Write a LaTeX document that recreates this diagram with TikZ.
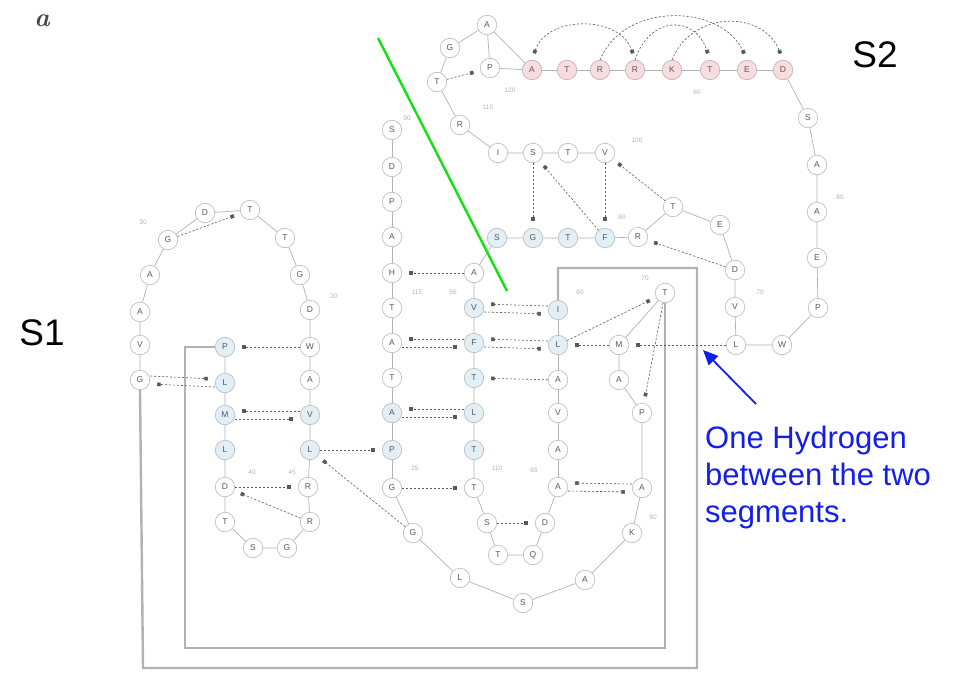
\documentclass[tikz,border=0pt]{standalone}
\usepackage{fontspec}
\setsansfont{Liberation Sans}
\usetikzlibrary{arrows.meta}
\definecolor{hbgreen}{RGB}{20,225,20}
\definecolor{txtblue}{RGB}{20,30,235}
\definecolor{pinkfill}{RGB}{248,220,224}
\definecolor{bluefill}{RGB}{226,239,246}
\begin{document}
\begin{tikzpicture}[x=1pt,y=-1pt,
  res/.style={circle,draw=gray!55,line width=0.6pt,minimum size=19.5pt,inner sep=0pt,
    font=\sffamily\fontsize{8.5}{8.5}\selectfont,text=gray!70!black},
  pinkres/.style={res,fill=pinkfill,draw=gray!50!pinkfill},
  blueres/.style={res,fill=bluefill},
  bb/.style={draw=gray!60,line width=0.7pt},
  hb/.style={draw=gray!70!black,line width=0.6pt,dash pattern=on 2.2pt off 1.8pt,
    -{Square[length=3.6pt,width=3.6pt]},shorten >=7pt},
  hbb/.style={hb,{Square[length=3.6pt,width=3.6pt]}-{Square[length=3.6pt,width=3.6pt]},shorten <=7pt},
  loopline/.style={draw=gray!60,line width=2.4pt},
  num/.style={font=\sffamily\fontsize{6.5}{6.5}\selectfont,text=gray!60},
  big/.style={font=\sffamily\fontsize{37}{37}\selectfont}]
\useasboundingbox (0,0) rectangle (957,674);
\fill[white] (0,0) rectangle (957,674);

% ---------- top turn ----------
\node[res] (a1) at (487,25) {A};
\node[res] (a2) at (450,48) {G};
\node[res] (a3) at (437,82) {T};
\node[res] (a4) at (490,68) {P};
\node[res] (a5) at (460,125) {R};
\node[pinkres] (p1) at (532,70) {A};
\node[pinkres] (p2) at (567,70) {T};
\node[pinkres] (p3) at (600,70) {R};
\node[pinkres] (p4) at (635,70) {R};
\node[pinkres] (p5) at (672,70) {K};
\node[pinkres] (p6) at (710,70) {T};
\node[pinkres] (p7) at (747,70) {E};
\node[pinkres] (p8) at (783,70) {D};

% ---------- right arm ----------
\node[res] (t11) at (808,118) {S};
\node[res] (t10) at (817,165) {A};
\node[res] (t9) at (817,212) {A};
\node[res] (t8) at (817,258) {E};
\node[res] (t7) at (818,308) {P};
\node[res] (t6) at (782,345) {W};
\node[res] (t5) at (736,345) {L};
\node[res] (t4) at (735,307) {V};
\node[res] (t3) at (735,270) {D};
\node[res] (t2) at (720,225) {E};
\node[res] (t1) at (673,207) {T};

% ---------- upper hairpin ----------
\node[res] (w1) at (498,153) {I};
\node[res] (w2) at (533,153) {S};
\node[res] (w3) at (568,153) {T};
\node[res] (w4) at (605,153) {V};
\node[blueres] (u1) at (497,238) {S};
\node[blueres] (u2) at (533,238) {G};
\node[blueres] (u3) at (568,238) {T};
\node[blueres] (u4) at (605,238) {F};
\node[res] (u5) at (638,237) {R};

% ---------- central strands ----------
\node[res] (c1) at (392,130) {S};
\node[res] (c2) at (392,167) {D};
\node[res] (c3) at (392,202) {P};
\node[res] (c4) at (392,237) {A};
\node[res] (c5) at (392,273) {H};
\node[res] (c6) at (392,308) {T};
\node[res] (c7) at (392,343) {A};
\node[res] (c8) at (392,378) {T};
\node[blueres] (c9) at (392,413) {A};
\node[blueres] (c10) at (392,450) {P};
\node[res] (c11) at (392,488) {G};

\node[res] (m1) at (474,273) {A};
\node[blueres] (m2) at (474,308) {V};
\node[blueres] (m3) at (474,343) {F};
\node[blueres] (m4) at (474,378) {T};
\node[blueres] (m5) at (474,413) {L};
\node[blueres] (m6) at (474,450) {T};
\node[res] (m7) at (474,488) {T};

\node[blueres] (n1) at (558,310) {I};
\node[blueres] (n2) at (558,345) {L};
\node[res] (n3) at (558,380) {A};
\node[res] (n4) at (558,413) {V};
\node[res] (n5) at (558,450) {A};
\node[res] (n6) at (558,487) {A};

\node[res] (k1) at (487,523) {S};
\node[res] (k2) at (498,555) {T};
\node[res] (k3) at (533,555) {Q};
\node[res] (k4) at (545,523) {D};

\node[res] (b1) at (413,533) {G};
\node[res] (b2) at (460,578) {L};
\node[res] (b3) at (523,603) {S};
\node[res] (b4) at (585,580) {A};
\node[res] (b5) at (632,533) {K};
\node[res] (b6) at (642,488) {A};
\node[res] (b7) at (642,413) {P};
\node[res] (b8) at (619,380) {A};
\node[res] (b9) at (619,345) {M};
\node[res] (b10) at (665,293) {T};

% ---------- left loop ----------
\node[res] (l1) at (140,380) {G};
\node[res] (l2) at (140,345) {V};
\node[res] (l3) at (140,312) {A};
\node[res] (l4) at (150,275) {A};
\node[res] (l5) at (168,240) {G};
\node[res] (l6) at (205,213) {D};
\node[res] (l7) at (250,210) {T};
\node[res] (l8) at (285,238) {T};
\node[res] (l9) at (300,275) {G};
\node[res] (l10) at (310,310) {D};
\node[res] (l11) at (310,347) {W};
\node[res] (l12) at (310,380) {A};
\node[blueres] (l13) at (310,415) {V};
\node[blueres] (l14) at (310,450) {L};
\node[res] (l15) at (308,487) {R};
\node[res] (l16) at (310,522) {R};
\node[res] (l17) at (287,548) {G};
\node[res] (l18) at (253,548) {S};
\node[res] (l19) at (225,522) {T};
\node[res] (l20) at (225,487) {D};
\node[blueres] (l21) at (225,450) {L};
\node[blueres] (l22) at (225,415) {M};
\node[blueres] (l23) at (225,383) {L};
\node[blueres] (l24) at (225,347) {P};

% ---------- residue numbers ----------
\node[num] (q1) at (143,222) {30};
\node[num] (q2) at (334,296) {20};
\node[num] (q3) at (252,472) {40};
\node[num] (q4) at (292,472) {45};
\node[num] (q5) at (407,118) {90};
\node[num] (q6) at (417,292) {115};
\node[num] (q7) at (453,292) {55};
\node[num] (q8) at (415,468) {25};
\node[num] (q9) at (497,468) {110};
\node[num] (q10) at (534,470) {65};
\node[num] (q11) at (653,517) {80};
\node[num] (q12) at (580,292) {60};
\node[num] (q13) at (645,278) {70};
\node[num] (q14) at (760,292) {70};
\node[num] (q15) at (840,197) {80};
\node[num] (q16) at (622,217) {80};
\node[num] (q17) at (637,140) {100};
\node[num] (q18) at (510,90) {120};
\node[num] (q19) at (488,107) {110};
\node[num] (q20) at (697,92) {60};

% ---------- backbone ----------
\draw[bb] (a3) -- (a2) -- (a1) -- (a4) -- (p1);
\draw[bb] (a1) -- (p1);
\draw[bb] (a3) -- (a5) -- (w1) -- (w2) -- (w3) -- (w4);
\draw[bb] (p1) -- (p2) -- (p3) -- (p4) -- (p5) -- (p6) -- (p7) -- (p8);
\draw[bb] (p8) -- (t11) -- (t10) -- (t9) -- (t8) -- (t7) -- (t6) -- (t5) -- (t4) -- (t3) -- (t2) -- (t1) -- (u5);
\draw[bb] (u5) -- (u4) -- (u3) -- (u2) -- (u1) -- (m1);
\draw[bb] (m1) -- (m2) -- (m3) -- (m4) -- (m5) -- (m6) -- (m7) -- (k1) -- (k2) -- (k3) -- (k4) -- (n6);
\draw[bb] (n6) -- (n5) -- (n4) -- (n3) -- (n2) -- (n1);
\draw[bb] (c1) -- (c2) -- (c3) -- (c4) -- (c5) -- (c6) -- (c7) -- (c8) -- (c9) -- (c10) -- (c11);
\draw[bb] (c11) -- (b1) -- (b2) -- (b3) -- (b4) -- (b5) -- (b6) -- (b7) -- (b8) -- (b9) -- (b10);
\draw[bb] (l1) -- (l2) -- (l3) -- (l4) -- (l5) -- (l6) -- (l7) -- (l8) -- (l9) -- (l10) -- (l11) -- (l12)
  -- (l13) -- (l14) -- (l15) -- (l16) -- (l17) -- (l18) -- (l19) -- (l20) -- (l21) -- (l22) -- (l23) -- (l24);

% long backbone links drawn as frames
\coordinate (i1) at (185,347);
\coordinate (i2) at (185,648);
\coordinate (i3) at (665,648);
\coordinate (o1) at (143,668);
\coordinate (o2) at (697,668);
\coordinate (o3) at (697,268);
\coordinate (o4) at (558,268);
\draw[loopline] (l24.west) -- (i1) -- (i2) -- (i3) -- (b10.south);
\draw[loopline] (l1.south) -- (o1) -- (o2) -- (o3) -- (o4) -- (n1.north);

% ---------- hydrogen bonds ----------
\draw[hb] (a3) -- (a4);
\draw[hbb] (p1.north) .. controls +(15,-45) and +(-15,-45) .. (p4.north);
\draw[hb] (p4.north) .. controls +(15,-45) and +(-15,-45) .. (p6.north);
\draw[hb] (p3.north) .. controls +(25,-60) and +(-25,-55) .. (p7.north);
\draw[hb] (p5.north) .. controls +(20,-50) and +(-20,-50) .. (p8.north);
\draw[hb] (w2) -- (u2);
\draw[hb] (u4) -- (w2);
\draw[hb] (w4) -- (u4);
\draw[hb] (t1) -- (w4);
\draw[hb] (t3) -- (u5);
\draw[hb] (l5) -- (l7);
\draw[hb] (l11) -- (l24);
\draw[hb] ([yshift=4pt]l1.east) -- ([yshift=4pt]l23.west);
\draw[hb] ([yshift=-4pt]l23.west) -- ([yshift=-4pt]l1.east);
\draw[hb] ([yshift=4pt]l13.west) -- ([yshift=4pt]l22.east);
\draw[hb] ([yshift=-4pt]l22.east) -- ([yshift=-4pt]l13.west);
\draw[hb] (l20) -- (l15);
\draw[hb] (l16) -- (l20);
\draw[hb] (l14) -- (c10);
\draw[hb] (b1) -- (l14);
\draw[hb] (m1) -- (c5);
\draw[hb] ([yshift=4pt]m3.west) -- ([yshift=4pt]c7.east);
\draw[hb] ([yshift=-4pt]c7.east) -- ([yshift=-4pt]m3.west);
\draw[hb] ([yshift=4pt]m5.west) -- ([yshift=4pt]c9.east);
\draw[hb] ([yshift=-4pt]c9.east) -- ([yshift=-4pt]m5.west);
\draw[hb] ([yshift=4pt]n1.west) -- ([yshift=4pt]m2.east);
\draw[hb] ([yshift=-4pt]m2.east) -- ([yshift=-4pt]n1.west);
\draw[hb] ([yshift=4pt]n2.west) -- ([yshift=4pt]m3.east);
\draw[hb] ([yshift=-4pt]m3.east) -- ([yshift=-4pt]n2.west);
\draw[hb] (n3) -- (m4);
\draw[hb] (c11) -- (m7);
\draw[hb] (k1) -- (k4);
\draw[hb] ([yshift=4pt]b6.west) -- ([yshift=4pt]n6.east);
\draw[hb] ([yshift=-4pt]n6.east) -- ([yshift=-4pt]b6.west);
\draw[hb] (b9) -- (n2);
\draw[hb] (t5) -- (b9);
\draw[hb] (n2) -- (b10);
\draw[hb] (b10) -- (b7);

% ---------- annotations ----------
\node[font=\rmfamily\bfseries\itshape\fontsize{26}{26}\selectfont,text=gray!55!black] (fig) at (42,21) {a};
\node[big] (s1) at (42,333) {S1};
\node[big] (s2) at (875,55) {S2};
\coordinate (g1) at (378,38);
\coordinate (g2) at (507,291);
\draw[hbgreen,line width=2.4pt] (g1) -- (g2);
\coordinate (h1) at (756,404);
\coordinate (h2) at (703,350);
\draw[txtblue,line width=1.8pt,-{Triangle[length=15pt,width=13pt]}] (h1) -- (h2);
\node[anchor=north west,inner sep=0pt,align=left,text=txtblue,
  font=\sffamily\fontsize{31}{37}\selectfont] (note) at (705,426)
  {One Hydrogen\\between the two\\segments.};
\end{tikzpicture}
\end{document}
